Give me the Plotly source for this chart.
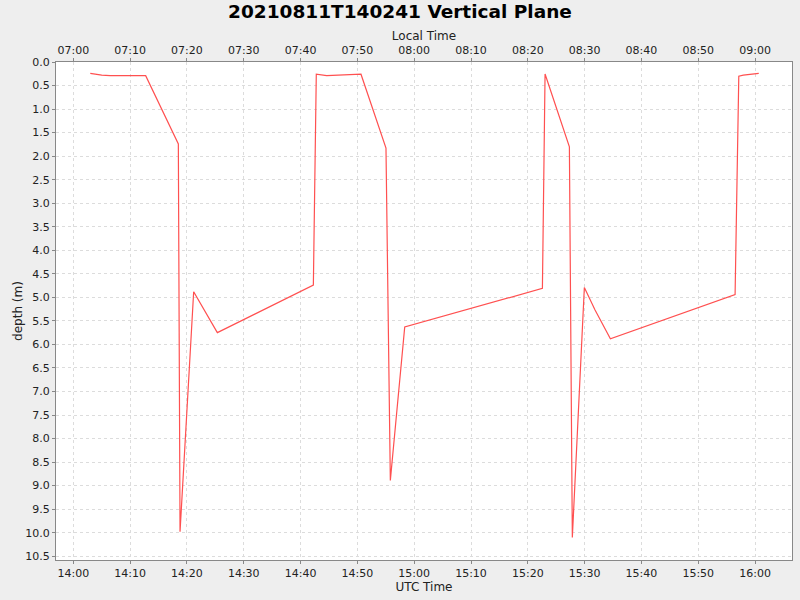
import datetime as dt
import plotly.graph_objects as go

# UTC sample times (2021-08-11) and depth in metres
utc_times = [
    "14:02:59", "14:05:00", "14:06:28", "14:12:44", "14:18:29", "14:18:47",
    "14:21:11", "14:25:21", "14:42:15", "14:42:46", "14:44:36", "14:50:38",
    "14:55:02", "14:55:48", "14:58:20", "15:22:34", "15:23:02", "15:27:19",
    "15:27:50", "15:29:57", "15:31:50", "15:34:32", "15:56:29", "15:57:08",
    "15:57:56", "16:00:39",
]
depths = [
    0.24, 0.28, 0.29, 0.29, 1.74, 9.98,
    4.88, 5.75, 4.74, 0.26, 0.29, 0.26,
    1.83, 8.89, 5.63, 4.81, 0.255, 1.80,
    10.10, 4.79, 5.27, 5.88, 4.94, 0.30,
    0.28, 0.24,
]
local_offset_hours = -7
x_range_utc = ["13:56:57", "16:06:30"]


def to_dt(s):
    return dt.datetime.strptime("2021-08-11 " + s, "%Y-%m-%d %H:%M:%S")


x_utc = [to_dt(s) for s in utc_times]
x_local = [t + dt.timedelta(hours=local_offset_hours) for t in x_utc]
rng_utc = [to_dt(s) for s in x_range_utc]
rng_local = [t + dt.timedelta(hours=local_offset_hours) for t in rng_utc]

fig = go.Figure()

fig.add_trace(go.Scatter(
    x=x_utc, y=depths, mode="lines",
    line=dict(color="#ff5050", width=1.2),
    showlegend=False, hoverinfo="skip",
))
# invisible trace so the local-time axis gets drawn
fig.add_trace(go.Scatter(
    x=x_local, y=depths, mode="lines", xaxis="x2",
    line=dict(color="rgba(0,0,0,0)", width=0),
    showlegend=False, hoverinfo="skip",
))

grid = dict(showgrid=True, gridcolor="#dcdcdc", griddash="3px,3px", gridwidth=1)
axis_line = dict(showline=True, linecolor="#888888", linewidth=1, automargin=False,
                 ticks="outside", ticklen=3, tickcolor="#888888")
tick_font = dict(family="DejaVu Sans", size=11, color="#222222")
title_font = dict(family="DejaVu Sans", size=12, color="#222222")

fig.update_layout(
    width=800, height=600,
    paper_bgcolor="#eeeeee", plot_bgcolor="white",
    margin=dict(l=56, r=8, t=62, b=40, autoexpand=False),
    title=dict(text="<b>20210811T140241 Vertical Plane</b>",
               x=0.5, xanchor="center", y=1 - 12 / 600, yanchor="middle",
               font=dict(family="DejaVu Sans", size=18.5, color="black")),
    xaxis=dict(range=rng_utc, dtick=600000, tickformat="%H:%M",
               title=dict(text="UTC Time", standoff=2, font=title_font),
               tickfont=tick_font, zeroline=False, **grid, **axis_line),
    xaxis2=dict(range=rng_local, dtick=600000, tickformat="%H:%M",
                overlaying="x", side="top", anchor="y",
                title=dict(text="Local Time", standoff=0, font=title_font),
                tickfont=tick_font, showgrid=False, zeroline=False, **axis_line),
    yaxis=dict(range=[10.58, 0], dtick=0.5, tickformat=".1f",
               title=dict(text="depth (m)", standoff=0, font=title_font),
               tickfont=tick_font, zeroline=False, mirror=True, **grid, **axis_line),
)

# drop the page's default body margin so the figure sits at the window corner
fig.write_html("out.html", config={"displayModeBar": False},
               post_script="document.body.style.margin='0';")
